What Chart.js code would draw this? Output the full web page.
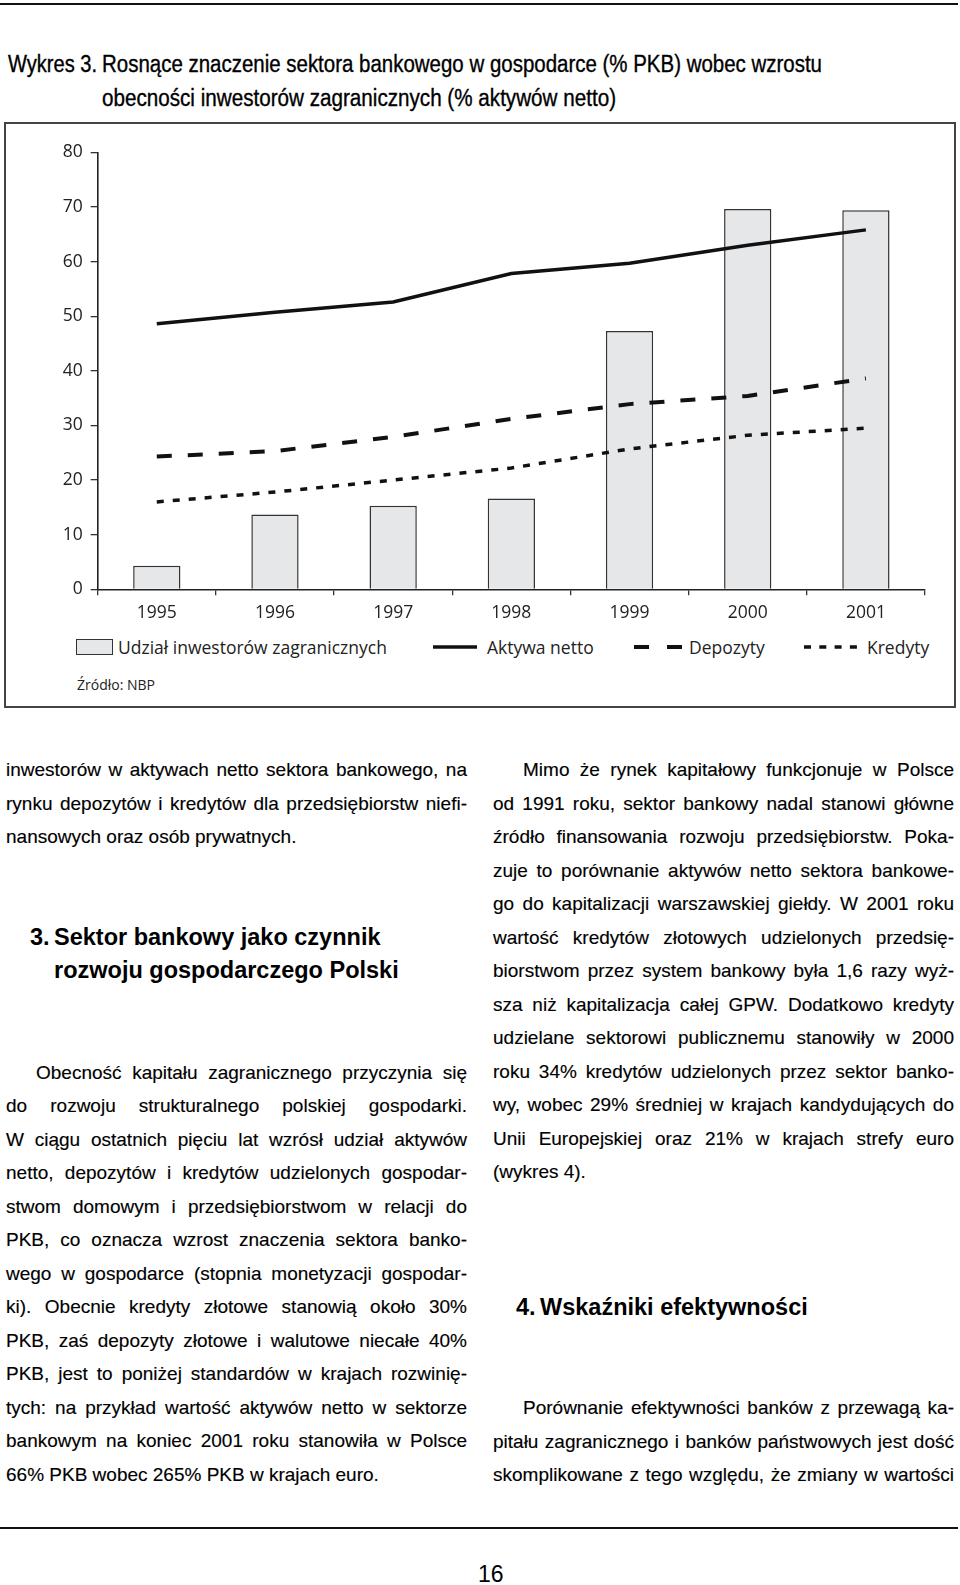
<!DOCTYPE html>
<html lang="pl">
<head>
<meta charset="UTF-8">
<title>Wykres 3</title>
<script src="https://cdn.jsdelivr.net/npm/chart.js"></script>
<style>
  html, body { margin: 0; padding: 0; background: #fff; }
  body { width: 960px; height: 1585px; position: relative; overflow: hidden;
         font-family: "Liberation Sans", Arial, sans-serif; color: #000; }
  .abs { position: absolute; white-space: nowrap; }
  .rule { position: absolute; left: 0; width: 958px; height: 2px; background: #111; }
  .tytul { font-size: 23px; line-height: 34px; transform-origin: 0 0; -webkit-text-stroke: 0.35px #000; }
  .col { position: absolute; width: 461px; font-size: 19px; line-height: 33.5px; -webkit-text-stroke: 0.15px #000; }
  .j { text-align: justify; text-align-last: justify; white-space: nowrap; }
  .l { text-align: left; white-space: nowrap; }
  .ind { padding-left: 30px; }
  .naglowek { font-weight: bold; font-size: 23.5px; line-height: 33px; }
  .leg { font-family: "Open Sans", sans-serif; font-size: 17.5px; line-height: 20px; color: #222; }
</style>
</head>
<body>

<div class="rule" style="top:3px"></div>

<!-- tytuł wykresu -->
<div class="abs tytul fit" data-w="89" style="left:8px;top:47px">Wykres 3.</div>
<div class="abs tytul fit" data-w="720" style="left:102px;top:47px">Rosnące znaczenie sektora bankowego w gospodarce (% PKB) wobec wzrostu</div>
<div class="abs tytul fit" data-w="514" style="left:102px;top:81px">obecności inwestorów zagranicznych (% aktywów netto)</div>

<!-- ramka wykresu -->
<div class="abs" style="left:4px;top:122px;width:948px;height:582px;border:2px solid #444"></div>
<div class="abs" style="left:5px;top:125px;width:948px;height:505px"><canvas id="wykres"></canvas></div>

<!-- legenda -->
<div class="abs" style="left:76px;top:639px;width:37px;height:16px;background:#e6e7e8;border:1px solid #333;box-sizing:border-box"></div>
<div class="abs leg" style="left:118px;top:637px">Udział inwestorów zagranicznych</div>
<svg class="abs" style="left:433px;top:641px" width="44" height="12"><line x1="0" y1="6" x2="44" y2="6" stroke="#111" stroke-width="3.5"/></svg>
<div class="abs leg" style="left:487px;top:637px">Aktywa netto</div>
<svg class="abs" style="left:634px;top:641px" width="48" height="12"><line x1="0" y1="6" x2="48" y2="6" stroke="#111" stroke-width="4" stroke-dasharray="15 18"/></svg>
<div class="abs leg" style="left:689px;top:637px">Depozyty</div>
<svg class="abs" style="left:804px;top:641px" width="53" height="12"><line x1="0" y1="6" x2="53" y2="6" stroke="#111" stroke-width="3.5" stroke-dasharray="7 8.3"/></svg>
<div class="abs leg" style="left:867px;top:637px">Kredyty</div>
<div class="abs leg" style="left:77px;top:675px;font-size:14px">Źródło: NBP</div>

<!-- lewa kolumna -->
<div class="col" style="left:6px;top:753px">
  <div class="j">inwestorów w aktywach netto sektora bankowego, na</div>
  <div class="j">rynku depozytów i kredytów dla przedsiębiorstw niefi-</div>
  <div class="l">nansowych oraz osób prywatnych.</div>
</div>
<div class="abs naglowek" style="left:30px;top:921px">3.</div>
<div class="abs naglowek" style="left:54px;top:921px">Sektor bankowy jako czynnik</div>
<div class="abs naglowek" style="left:54px;top:954px">rozwoju gospodarczego Polski</div>
<div class="col" style="left:6px;top:1055.75px">
  <div class="j ind">Obecność kapitału zagranicznego przyczynia się</div>
  <div class="j">do rozwoju strukturalnego polskiej gospodarki.</div>
  <div class="j">W ciągu ostatnich pięciu lat wzrósł udział aktywów</div>
  <div class="j">netto, depozytów i kredytów udzielonych gospodar-</div>
  <div class="j">stwom domowym i przedsiębiorstwom w relacji do</div>
  <div class="j">PKB, co oznacza wzrost znaczenia sektora banko-</div>
  <div class="j">wego w gospodarce (stopnia monetyzacji gospodar-</div>
  <div class="j">ki). Obecnie kredyty złotowe stanowią około 30%</div>
  <div class="j">PKB, zaś depozyty złotowe i walutowe niecałe 40%</div>
  <div class="j">PKB, jest to poniżej standardów w krajach rozwinię-</div>
  <div class="j">tych: na przykład wartość aktywów netto w sektorze</div>
  <div class="j">bankowym na koniec 2001 roku stanowiła w Polsce</div>
  <div class="l">66% PKB wobec 265% PKB w krajach euro.</div>
</div>

<!-- prawa kolumna -->
<div class="col" style="left:493px;top:753px">
  <div class="j ind">Mimo że rynek kapitałowy funkcjonuje w Polsce</div>
  <div class="j">od 1991 roku, sektor bankowy nadal stanowi główne</div>
  <div class="j">źródło finansowania rozwoju przedsiębiorstw. Poka-</div>
  <div class="j">zuje to porównanie aktywów netto sektora bankowe-</div>
  <div class="j">go do kapitalizacji warszawskiej giełdy. W 2001 roku</div>
  <div class="j">wartość kredytów złotowych udzielonych przedsię-</div>
  <div class="j">biorstwom przez system bankowy była 1,6 razy wyż-</div>
  <div class="j">sza niż kapitalizacja całej GPW. Dodatkowo kredyty</div>
  <div class="j">udzielane sektorowi publicznemu stanowiły w 2000</div>
  <div class="j">roku 34% kredytów udzielonych przez sektor banko-</div>
  <div class="j">wy, wobec 29% średniej w krajach kandydujących do</div>
  <div class="j">Unii Europejskiej oraz 21% w krajach strefy euro</div>
  <div class="l">(wykres 4).</div>
</div>
<div class="abs naglowek" style="left:516px;top:1291px">4.</div>
<div class="abs naglowek" style="left:540px;top:1291px">Wskaźniki efektywności</div>
<div class="col" style="left:493px;top:1391px">
  <div class="j ind">Porównanie efektywności banków z przewagą ka-</div>
  <div class="j">pitału zagranicznego i banków państwowych jest dość</div>
  <div class="j">skomplikowane z tego względu, że zmiany w wartości</div>
</div>

<div class="rule" style="top:1527px"></div>
<div class="abs" style="left:478px;top:1560px;font-size:23px;line-height:28px">16</div>

<script>
  const lata = ['1995', '1996', '1997', '1998', '1999', '2000', '2001'];
  const udzialInwestorow = [4.3, 13.7, 15.3, 16.6, 47.3, 69.6, 69.4];
  const aktywaNetto = [48.6, 50.7, 52.6, 57.8, 59.7, 63.0, 65.8];
  const depozyty = [24.3, 25.3, 27.9, 31.2, 33.9, 35.4, 38.6];
  const kredyty = [16.0, 17.8, 20.0, 22.2, 25.7, 28.2, 29.5];

  // dopasowanie szerokości tekstu do oryginału
  const miarka = document.createElement('canvas').getContext('2d');
  document.querySelectorAll('.fit').forEach(el => {
    miarka.font = '23px "Liberation Sans"';
    const w = miarka.measureText(el.textContent).width;
    el.style.transform = 'scaleX(' + (el.dataset.w / w) + ')';
  });
  document.querySelectorAll('.col .j').forEach(el => {
    miarka.font = '19px "Liberation Sans"';
    const dostepne = el.clientWidth - (el.classList.contains('ind') ? 30 : 0);
    const w = miarka.measureText(el.textContent).width;
    if (w > dostepne) {
      el.style.letterSpacing = ((dostepne - w) / el.textContent.length) + 'px';
    }
  });

  Chart.defaults.font.family = '"Open Sans", sans-serif';
  Chart.defaults.color = '#222';

  const ctx = document.getElementById('wykres');
  const wykres = new Chart(ctx, {
    type: 'bar',
    data: {
      labels: lata,
      datasets: [
        {
          type: 'line', label: 'Aktywa netto', data: aktywaNetto,
          borderColor: '#111', borderWidth: 3.5, pointRadius: 0, tension: 0, order: 1
        },
        {
          type: 'line', label: 'Depozyty', data: depozyty,
          borderColor: '#111', borderWidth: 4, borderDash: [15, 16], pointRadius: 0, tension: 0, order: 1
        },
        {
          type: 'line', label: 'Kredyty', data: kredyty,
          borderColor: '#111', borderWidth: 3.5, borderDash: [7, 9], pointRadius: 0, tension: 0, order: 1
        },
        {
          type: 'bar', label: 'Udział inwestorów zagranicznych', data: udzialInwestorow,
          backgroundColor: '#e6e7e8', borderColor: '#333', borderWidth: 1.5,
          barPercentage: 0.4, categoryPercentage: 1, order: 2
        }
      ]
    },
    options: {
      responsive: true,
      maintainAspectRatio: false,
      animation: false,
      layout: { padding: { top: 27.3, right: 28, left: 0, bottom: 0 } },
      plugins: { legend: { display: false }, tooltip: { enabled: false } },
      scales: {
        x: {
          grid: { display: true, drawOnChartArea: false, drawTicks: true, tickLength: 6, color: '#333', lineWidth: 1.3, offset: true },
          border: { display: true, color: '#222', width: 1.6 },
          ticks: { font: { size: 17.5 }, color: '#222', padding: 7 },
          afterFit(s) { s.height = 40.7; }
        },
        y: {
          min: 0,
          max: 80,
          grid: { display: true, drawOnChartArea: false, drawTicks: true, tickLength: 7, color: '#333', lineWidth: 1.3 },
          border: { display: true, color: '#222', width: 1.6 },
          ticks: { stepSize: 10, font: { size: 17.5 }, color: '#222', padding: 8 },
          afterFit(s) { s.width = 92.7; }
        }
      }
    }
  });
</script>
</body>
</html>
